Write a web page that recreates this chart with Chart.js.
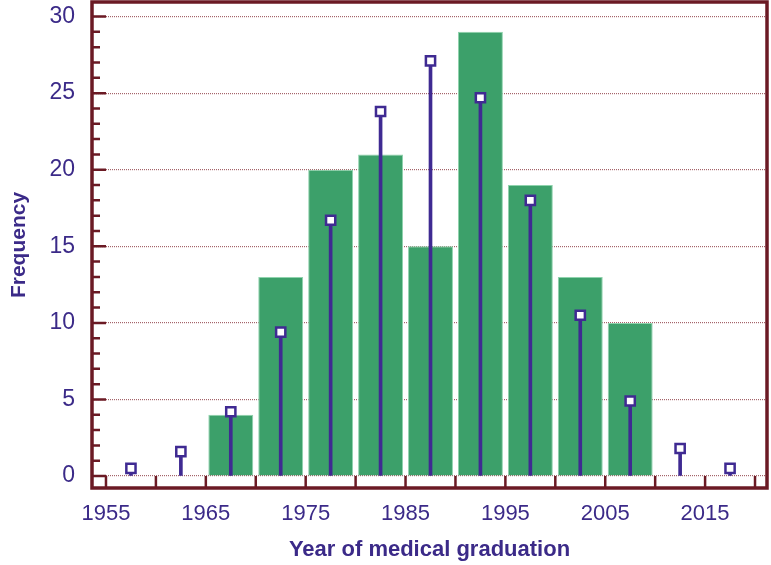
<!DOCTYPE html>
<html>
<head>
<meta charset="utf-8">
<script src="https://cdn.jsdelivr.net/npm/chart.js@4.4.1/dist/chart.umd.min.js"></script>
<style>
  html, body { margin: 0; padding: 0; background: #fff; }
  #wrap { width: 771px; height: 565px; position: relative; }
</style>
</head>
<body>
<div id="wrap"><canvas id="grad-chart"></canvas></div>
<script>
// histogram bins (midpoints) and counts
var binMids = [1967.5, 1972.5, 1977.5, 1982.5, 1987.5, 1992.5, 1997.5, 2002.5, 2007.5];
var binCounts = [4, 13, 20, 21, 15, 29, 19, 13, 10];

// fitted / expected frequencies (stems with square markers)
var fitMids = [1957.5, 1962.5, 1967.5, 1972.5, 1977.5, 1982.5, 1987.5, 1992.5, 1997.5, 2002.5, 2007.5, 2012.5, 2017.5];
var fitValues = [0.5, 1.6, 4.2, 9.4, 16.7, 23.8, 27.1, 24.7, 18.0, 10.5, 4.9, 1.8, 0.5];

var xLabelYears = [1955, 1965, 1975, 1985, 1995, 2005, 2015];
var yLabelValues = [0, 5, 10, 15, 20, 25, 30];

var AXIS = '#6b1a24';
var INK = '#3b2a88';
var GREEN = '#3ca06a';
var STEM = '#3f2a92';

function pairs(xs, ys) {
    return xs.map(function (x, i) { return { x: x, y: ys[i] }; });
}

// frame around the plot + inward tick marks
var frameTicks = {
    id: 'frameTicks',
    afterDraw: function (chart) {
        var ctx = chart.ctx;
        var a = chart.chartArea;
        var x = chart.scales.x;
        var y = chart.scales.y;
        var zeroY = y.getPixelForValue(0);
        ctx.save();
        ctx.strokeStyle = AXIS;
        ctx.lineWidth = 2.5;
        ctx.beginPath();
        y.ticks.forEach(function (t) {
            var py = y.getPixelForValue(t.value);
            var len = t.value % 5 === 0 ? 14 : 8;
            ctx.moveTo(a.left, py);
            ctx.lineTo(a.left + len, py);
        });
        x.ticks.forEach(function (t) {
            var px = x.getPixelForValue(t.value);
            ctx.moveTo(px, a.bottom);
            ctx.lineTo(px, zeroY);
        });
        ctx.stroke();
        ctx.lineWidth = 3.5;
        ctx.strokeRect(a.left, a.top, a.right - a.left, a.bottom - a.top);
        ctx.restore();
    }
};

new Chart(document.getElementById('grad-chart').getContext('2d'), {
    data: {
        datasets: [
            {
                type: 'line',
                data: pairs(fitMids, fitValues),
                showLine: false,
                pointStyle: 'rect',
                pointRadius: 6.5,
                pointBorderWidth: 2.5,
                pointBackgroundColor: '#ffffff',
                pointBorderColor: STEM,
                order: 1
            },
            {
                type: 'bar',
                data: pairs(fitMids, fitValues),
                backgroundColor: STEM,
                barThickness: 3,
                grouped: false,
                order: 2
            },
            {
                type: 'bar',
                data: pairs(binMids, binCounts),
                backgroundColor: GREEN,
                borderColor: '#8fd3ad',
                borderWidth: 1,
                categoryPercentage: 1,
                barPercentage: 0.9,
                grouped: false,
                order: 3
            }
        ]
    },
    options: {
        responsive: true,
        maintainAspectRatio: false,
        animation: false,
        layout: { autoPadding: false, padding: { top: 2, right: 4, left: 0, bottom: 0 } },
        plugins: {
            legend: { display: false },
            tooltip: { enabled: false }
        },
        scales: {
            x: {
                type: 'linear',
                offset: false,
                min: 1953.6,
                max: 2021.2,
                afterFit: function (s) {
                    s.height = 77;
                    s.paddingLeft = 0;
                    s.paddingRight = 0;
                },
                grid: { display: false, drawTicks: false, offset: false },
                border: { display: false },
                ticks: {
                    stepSize: 5,
                    includeBounds: false,
                    autoSkip: false,
                    maxRotation: 0,
                    padding: 13,
                    color: INK,
                    font: { size: 22, family: '"Liberation Sans", Arial, sans-serif' },
                    callback: function (v) {
                        return xLabelYears.indexOf(v) >= 0 ? String(v) : '';
                    }
                },
                title: {
                    display: true,
                    text: 'Year of medical graduation',
                    color: INK,
                    padding: { top: 0, bottom: 2 },
                    font: { size: 22, weight: 'bold', family: '"Liberation Sans Narrow", "Liberation Sans", Arial, sans-serif' }
                }
            },
            y: {
                min: -0.78,
                max: 30.95,
                afterFit: function (s) {
                    s.width = 92;
                    s.paddingTop = 0;
                    s.paddingBottom = 0;
                },
                grid: {
                    drawTicks: false,
                    lineWidth: 1.2,
                    color: function (c) {
                        return c.tick && yLabelValues.indexOf(c.tick.value) >= 0 ? '#a4646a' : 'rgba(0,0,0,0)';
                    }
                },
                border: { display: false, dash: [1, 1] },
                ticks: {
                    stepSize: 1,
                    includeBounds: false,
                    autoSkip: false,
                    padding: 17,
                    color: INK,
                    font: { size: 23, family: '"Liberation Sans", Arial, sans-serif' },
                    callback: function (v) {
                        return yLabelValues.indexOf(v) >= 0 ? String(v) : '';
                    }
                },
                title: {
                    display: true,
                    text: 'Frequency',
                    color: INK,
                    padding: { top: 7, bottom: 0 },
                    font: { size: 21, weight: 'bold', family: '"Liberation Sans", Arial, sans-serif' }
                }
            }
        }
    },
    plugins: [frameTicks]
});
</script>
</body>
</html>
